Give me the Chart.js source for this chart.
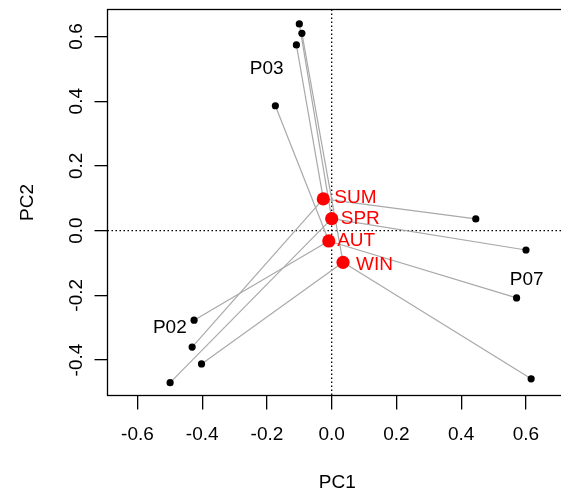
<!DOCTYPE html>
<html lang="en">
<head>
<meta charset="UTF-8">
<title>PC1 / PC2 by season</title>
<script src="https://cdn.jsdelivr.net/npm/chart.js"></script>
<style>
  html, body { margin: 0; padding: 0; background: #fff; overflow: hidden; }
  /* the plot box runs a few pixels past the right edge, as in the original */
  #wrap { width: 561px; height: 498px; overflow: hidden; }
  canvas { display: block; }
</style>
</head>
<body>
<div id="wrap"><canvas id="biplot" width="567" height="498"></canvas></div>
<script>
// season scores (red points)
const seasons = ['SUM', 'SPR', 'AUT', 'WIN'];
const seasonPC1 = [-0.026, 0.000, -0.009, 0.035];
const seasonPC2 = [0.098, 0.037, -0.032, -0.098];
// anchor of each season name (left edge, middle)
const seasonLabelPC1 = [0.008, 0.028, 0.017, 0.075];
const seasonLabelPC2 = [0.102, 0.037, -0.030, -0.105];

// individual scores, one per season (same order as seasons)
const individuals = ['P02', 'P03', 'P07'];
const p02PC1 = [-0.431, -0.499, -0.425, -0.402];
const p02PC2 = [-0.360, -0.470, -0.277, -0.412];
const p03PC1 = [-0.109, -0.100, -0.174, -0.092];
const p03PC2 = [0.574, 0.639, 0.386, 0.610];
const p07PC1 = [0.445, 0.600, 0.571, 0.616];
const p07PC2 = [0.036, -0.060, -0.208, -0.458];
// where the individual names are written (centre)
const indLabelPC1 = [-0.500, -0.201, 0.602];
const indLabelPC2 = [-0.299, 0.499, -0.153];

// axes
const xTicks = [-0.6, -0.4, -0.2, 0.0, 0.2, 0.4, 0.6];
const yTicks = [-0.4, -0.2, 0.0, 0.2, 0.4, 0.6];
const xMin = -0.6924, xMax = 0.7267;
const yMin = -0.5097, yMax = 0.6835;

const FONT = "'Liberation Sans', Arial, Helvetica, sans-serif";
const indPC1 = [p02PC1, p03PC1, p07PC1];
const indPC2 = [p02PC2, p03PC2, p07PC2];

// one grey segment from each individual/season point to its season point
const datasets = [];
for (let i = 0; i < individuals.length; i++) {
  for (let s = 0; s < seasons.length; s++) {
    datasets.push({
      data: [
        { x: indPC1[i][s], y: indPC2[i][s] },
        { x: seasonPC1[s], y: seasonPC2[s] }
      ],
      showLine: true,
      borderColor: '#a9a9a9',
      borderWidth: 1.2,
      pointRadius: 0,
      order: 3
    });
  }
}

// black points
const blackPts = [];
for (let i = 0; i < individuals.length; i++) {
  for (let s = 0; s < seasons.length; s++) {
    blackPts.push({ x: indPC1[i][s], y: indPC2[i][s] });
  }
}
datasets.push({
  data: blackPts,
  pointRadius: 3.6,
  backgroundColor: '#000',
  borderWidth: 0,
  order: 2
});

// red season points
datasets.push({
  data: seasons.map((s, k) => ({ x: seasonPC1[k], y: seasonPC2[k] })),
  pointRadius: 6.6,
  backgroundColor: '#ff0000',
  borderWidth: 0,
  order: 1
});

// zero lines, box, texts
const decor = {
  id: 'decor',
  beforeDatasetsDraw(chart) {
    const { ctx, chartArea: a, scales: { x, y } } = chart;
    const x0 = x.getPixelForValue(0);
    const y0 = y.getPixelForValue(0);
    ctx.save();
    ctx.strokeStyle = '#000';
    ctx.lineWidth = 1.3;
    ctx.setLineDash([1.5, 2.5]);
    ctx.beginPath();
    ctx.moveTo(x0, a.top);
    ctx.lineTo(x0, a.bottom);
    ctx.moveTo(a.left, y0);
    ctx.lineTo(a.right, y0);
    ctx.stroke();
    ctx.restore();
  },
  afterDatasetsDraw(chart) {
    const { ctx, scales: { x, y } } = chart;
    ctx.save();
    ctx.font = '19px ' + FONT;
    ctx.textBaseline = 'middle';

    ctx.fillStyle = '#000';
    ctx.textAlign = 'center';
    individuals.forEach((name, i) => {
      ctx.fillText(name, x.getPixelForValue(indLabelPC1[i]), y.getPixelForValue(indLabelPC2[i]));
    });

    ctx.fillStyle = '#ff0000';
    ctx.textAlign = 'left';
    seasons.forEach((name, k) => {
      ctx.fillText(name, x.getPixelForValue(seasonLabelPC1[k]), y.getPixelForValue(seasonLabelPC2[k]));
    });
    ctx.restore();
  },
  afterDraw(chart) {
    const { ctx, chartArea: a, scales: { y } } = chart;
    ctx.save();
    ctx.strokeStyle = '#000';
    ctx.lineWidth = 1.3;
    ctx.strokeRect(a.left, a.top, a.right - a.left, a.bottom - a.top);

    // y tick labels, turned like R does
    ctx.fillStyle = '#000';
    ctx.font = '19px ' + FONT;
    ctx.textAlign = 'center';
    ctx.textBaseline = 'alphabetic';
    yTicks.forEach(v => {
      ctx.save();
      ctx.translate(a.left - 26, y.getPixelForValue(v));
      ctx.rotate(-Math.PI / 2);
      ctx.fillText(v.toFixed(1), 0, 0);
      ctx.restore();
    });
    ctx.restore();
  }
};

new Chart(document.getElementById('biplot'), {
  type: 'scatter',
  data: { datasets: datasets },
  plugins: [decor],
  options: {
    responsive: false,
    animation: false,
    layout: { autoPadding: false, padding: { top: 9.5, left: 0, right: 0, bottom: 0 } },
    plugins: {
      legend: { display: false },
      tooltip: { enabled: false }
    },
    scales: {
      x: {
        type: 'linear',
        min: xMin,
        max: xMax,
        afterBuildTicks: s => { s.ticks = xTicks.map(v => ({ value: v })); },
        afterFit: s => { s.height = 102.5; },
        grid: { drawOnChartArea: false, drawTicks: true, tickLength: 14, color: '#000', lineWidth: 1.3 },
        border: { display: false },
        ticks: {
          padding: 13.6,
          color: '#000',
          font: { family: FONT, size: 19 },
          maxRotation: 0,
          autoSkip: false,
          callback: v => Number(v).toFixed(1)
        },
        title: {
          display: true,
          text: 'PC1',
          color: '#000',
          font: { family: FONT, size: 19 },
          padding: { top: 0, bottom: 3.6 }
        }
      },
      y: {
        type: 'linear',
        min: yMin,
        max: yMax,
        afterBuildTicks: s => { s.ticks = yTicks.map(v => ({ value: v })); },
        afterFit: s => { s.width = 107.5; },
        grid: { drawOnChartArea: false, drawTicks: true, tickLength: 13, color: '#000', lineWidth: 1.3 },
        border: { display: false },
        ticks: { display: false },
        title: {
          display: true,
          text: 'PC2',
          color: '#000',
          font: { family: FONT, size: 19 },
          padding: { top: 16.6, bottom: 0 }
        }
      }
    }
  }
});
</script>
</body>
</html>
